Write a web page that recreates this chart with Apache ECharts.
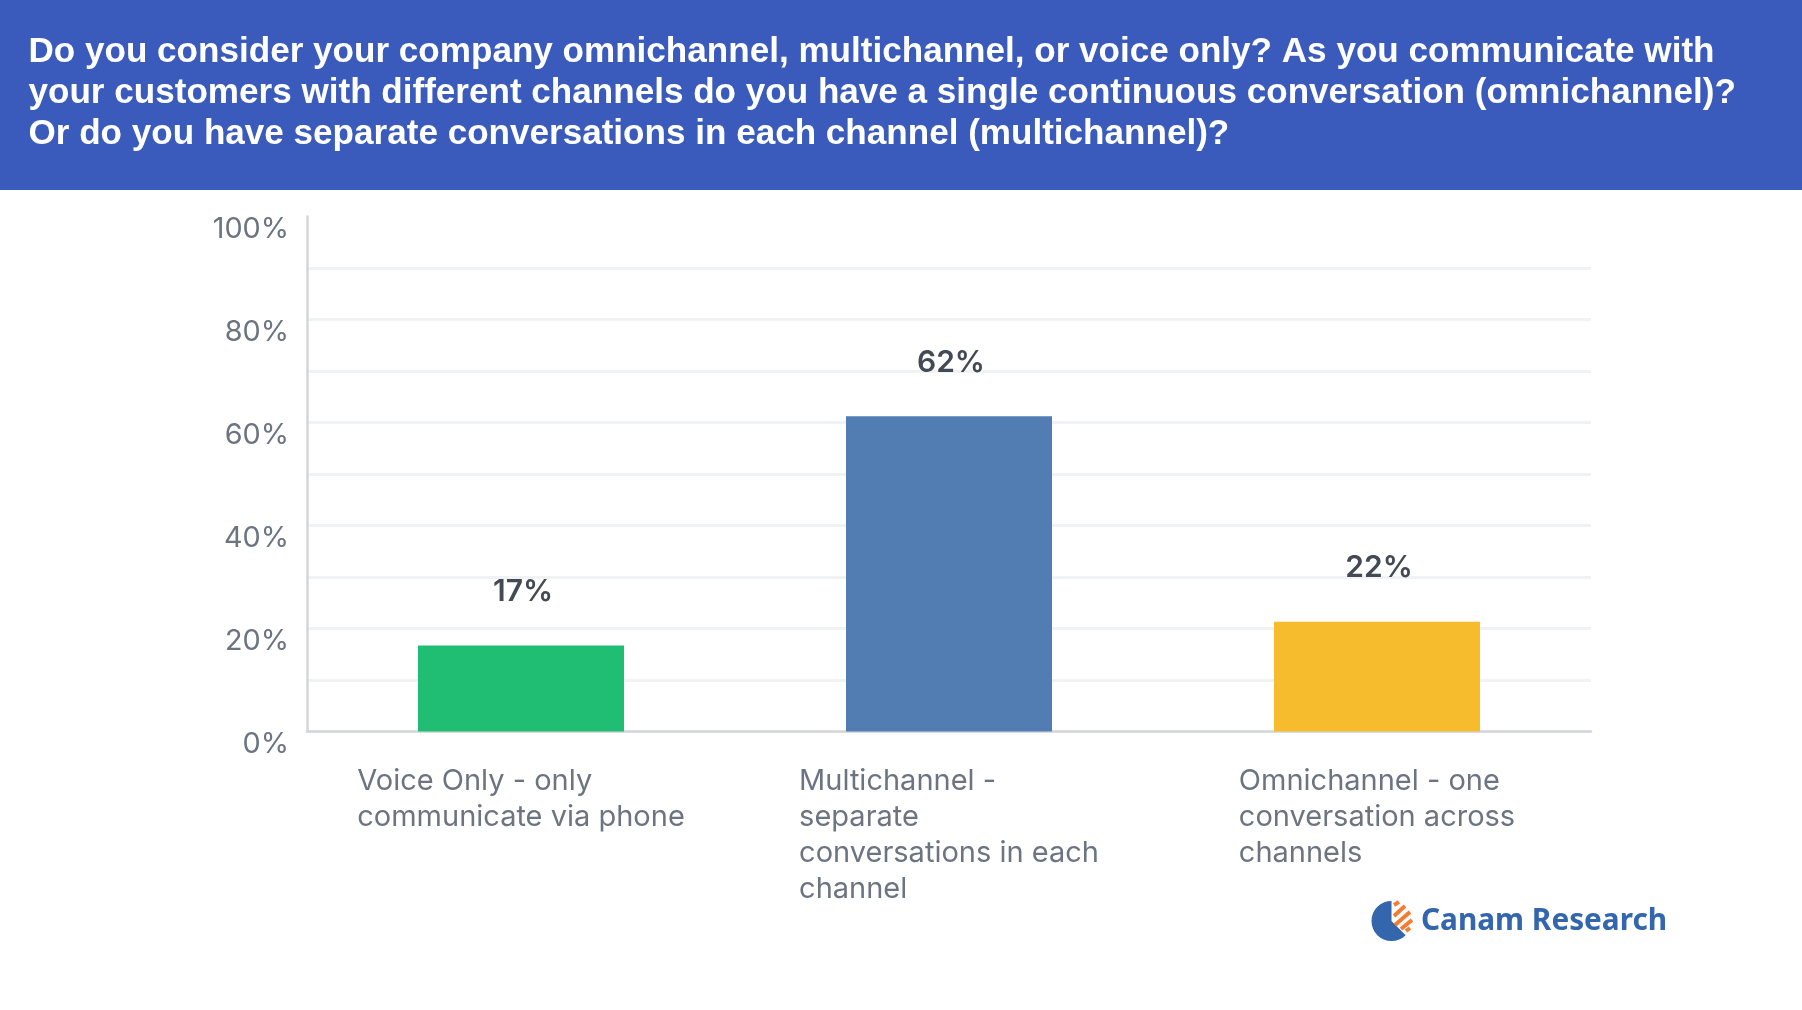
<!DOCTYPE html>
<html>
<head>
<meta charset="utf-8">
<title>Canam Research chart</title>
<script src="https://cdn.jsdelivr.net/npm/echarts@6/dist/echarts.min.js"></script>
<style>
  html, body { margin: 0; padding: 0; background: #fff; }
  #chart { width: 1802px; height: 1010px; }
</style>
</head>
<body>
<div id="chart"></div>
<script>
// header lines
var titleLines = [
  'Do you consider your company omnichannel, multichannel, or voice only? As you communicate with',
  'your customers with different channels do you have a single continuous conversation (omnichannel)?',
  'Or do you have separate conversations in each channel (multichannel)?'
];
var categories = [
  'Voice Only - only\ncommunicate via phone',
  'Multichannel -\nseparate\nconversations in each\nchannel',
  'Omnichannel - one\nconversation across\nchannels'
];
// bar heights as measured on the picture, the printed labels are a bit higher
var barValues = [16.7, 61.2, 21.3];
var printedLabels = ['17%', '62%', '22%'];
var barColors = ['#1fbe72', '#527db3', '#f7bc2d'];

var font = 'Inter, sans-serif';
var myChart = echarts.init(document.getElementById('chart'));

// stripes of the logo
function stripe(x1, y1, x2, y2) {
  return {
    type: 'line',
    shape: { x1: x1, y1: y1, x2: x2, y2: y2 },
    style: { stroke: '#f47b33', lineWidth: 4 }
  };
}

myChart.setOption({
  animation: false,
  title: {
    text: titleLines.join('\n'),
    left: 28.5,
    top: 32,
    padding: 0,
    textStyle: {
      color: '#fff',
      fontFamily: '"Liberation Sans", Arial, sans-serif',
      fontWeight: 'bold',
      fontSize: 35.1,
      lineHeight: 41
    }
  },
  graphic: [
    { type: 'rect', z: -1, shape: { x: 0, y: 0, width: 1802, height: 190 }, style: { fill: '#3a5bbb' } },
    {
      type: 'sector',
      shape: { cx: 1391.5, cy: 921, r: 20, startAngle: Math.PI / 4, endAngle: Math.PI * 1.5, clockwise: true },
      style: { fill: '#3366ad' }
    },
    stripe(1394, 905, 1399, 902),
    stripe(1394, 916, 1405, 906),
    stripe(1395, 925, 1410, 912),
    stripe(1401, 929, 1412, 920),
    stripe(1406, 931, 1410, 928),
    {
      type: 'text',
      x: 1421,
      y: 905.5,
      scaleX: 0.96,
      style: {
        text: 'Canam Research',
        fill: '#3366ad',
        fontFamily: '"Noto Sans", sans-serif',
        fontWeight: 'bold',
        fontSize: 31
      }
    }
  ],
  grid: { left: 307, right: 211, top: 216.5, height: 515 },
  xAxis: {
    type: 'category',
    data: categories,
    axisTick: { show: false },
    axisLine: { lineStyle: { color: '#d3d6db', width: 2.5 } },
    axisLabel: {
      interval: 0,
      margin: 32,
      formatter: function (v) {
        return v.split('\n').map(function (s) { return '{l|' + s + '}'; }).join('\n');
      },
      rich: {
        l: { align: 'left', color: '#6b7480', fontFamily: font, fontSize: 29, lineHeight: 36 }
      }
    }
  },
  yAxis: {
    type: 'value',
    min: 0,
    max: 100,
    interval: 10,
    axisTick: { show: false },
    axisLine: { show: true, lineStyle: { color: '#d3d6db', width: 2.5 } },
    splitLine: { showMaxLine: false, lineStyle: { color: '#f1f2f3', width: 3 } },
    axisLabel: {
      margin: 18,
      verticalAlign: 'top',
      lineHeight: 25,
      color: '#6b7480',
      fontFamily: font,
      fontSize: 28.8,
      formatter: function (v) { return v % 20 === 0 ? v + '%' : ''; }
    }
  },
  series: [{
    type: 'bar',
    barWidth: 206,
    data: barValues.map(function (v, i) {
      return { value: v, itemStyle: { color: barColors[i] } };
    }),
    label: {
      show: true,
      position: 'top',
      distance: 38.5,
      offset: [2, 0],
      color: '#434a54',
      fontFamily: font,
      fontWeight: 600,
      fontSize: 30,
      formatter: function (p) { return printedLabels[p.dataIndex]; }
    }
  }]
});
</script>
</body>
</html>
